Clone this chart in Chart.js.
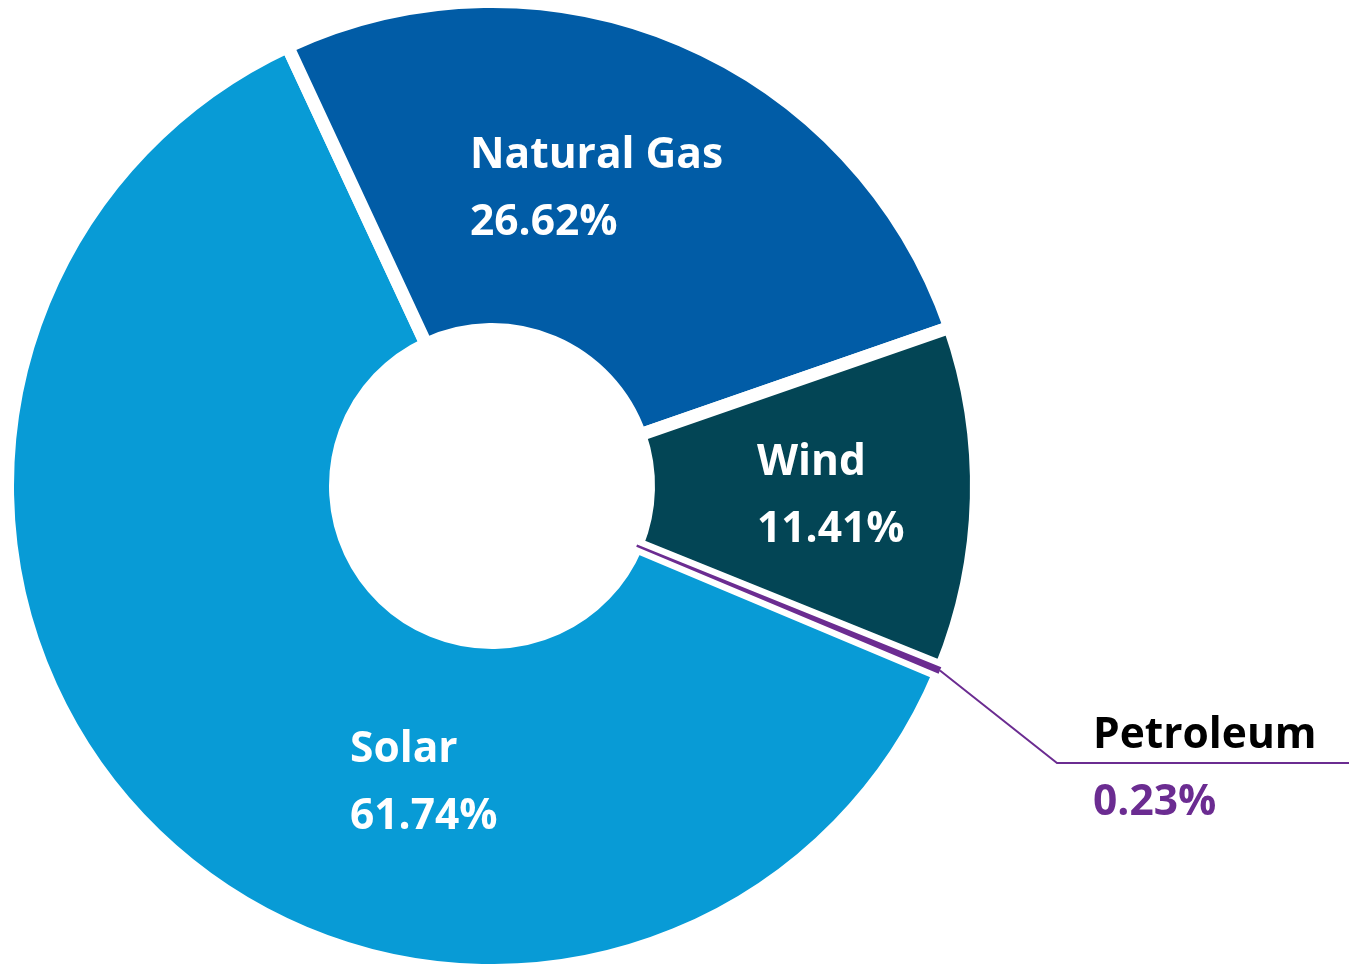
<!DOCTYPE html>
<html>
<head>
<meta charset="utf-8">
<script src="https://cdn.jsdelivr.net/npm/chart.js@4.4.1/dist/chart.umd.min.js"></script>
<style>
  html, body { margin: 0; padding: 0; background: #ffffff; }
  canvas { display: block; }
</style>
</head>
<body>
<canvas id="mixChart" width="1349" height="964"></canvas>
<script>
// generation mix, listed clockwise starting from the solar slice
const sources = ["Solar", "Natural Gas", "Wind", "Petroleum"];
const shares = [61.74, 26.62, 11.41, 0.23];
const sliceColors = ["#089bd6", "#015ca6", "#034555", "#6b2c91"];

// where each label block sits: px from the chart centre (left edge, first baseline)
const labelSpots = {
    "Solar":       { dx: -142, dy: 276,  name: "#ffffff", value: "#ffffff" },
    "Natural Gas": { dx: -22,  dy: -318, name: "#ffffff", value: "#ffffff" },
    "Wind":        { dx: 265,  dy: -11,  name: "#ffffff", value: "#ffffff" },
    "Petroleum":   { dx: 601,  dy: 262,  name: "#000000", value: "#6b2c91", leader: true }
};

/* ------------------------------
   LABELS + LEADER LINE
------------------------------- */
const sliceLabels = {
    id: "sliceLabels",
    afterDatasetsDraw(chart) {
        const ctx = chart.ctx;
        const arcs = chart.getDatasetMeta(0).data;
        ctx.save();
        ctx.font = "bold 42.5px 'Open Sans'";
        ctx.textAlign = "left";
        ctx.textBaseline = "alphabetic";
        arcs.forEach((arc, i) => {
            const spot = labelSpots[sources[i]];
            const x = arc.x + spot.dx;
            const y = arc.y + spot.dy;
            if (spot.leader) {
                const mid = (arc.startAngle + arc.endAngle) / 2;
                const sx = arc.x + Math.cos(mid) * arc.outerRadius;
                const sy = arc.y + Math.sin(mid) * arc.outerRadius;
                const lineY = y + 15;
                ctx.strokeStyle = sliceColors[i];
                ctx.lineWidth = 2;
                ctx.beginPath();
                ctx.moveTo(sx, sy);
                ctx.lineTo(x - 36, lineY);
                ctx.lineTo(chart.width, lineY);
                ctx.stroke();
            }
            ctx.fillStyle = spot.name;
            ctx.fillText(sources[i], x, y);
            ctx.fillStyle = spot.value;
            ctx.fillText(shares[i].toFixed(2) + "%", x, y + 67);
        });
        ctx.restore();
    }
};

/* ------------------------------
   DOUGHNUT
------------------------------- */
new Chart(document.getElementById("mixChart"), {
    type: "doughnut",
    data: {
        labels: sources,
        datasets: [{
            data: shares,
            backgroundColor: sliceColors,
            borderColor: "#ffffff",
            borderWidth: [13, 13, 13, 0],
            clip: false
        }]
    },
    options: {
        responsive: false,
        animation: false,
        events: [],
        rotation: 112.8,
        radius: 484.5,
        cutout: "32.3%",
        layout: { padding: { left: 0, right: 365, top: 8, bottom: 0 } },
        plugins: {
            legend: { display: false },
            tooltip: { enabled: false }
        }
    },
    plugins: [sliceLabels]
});
</script>
</body>
</html>
